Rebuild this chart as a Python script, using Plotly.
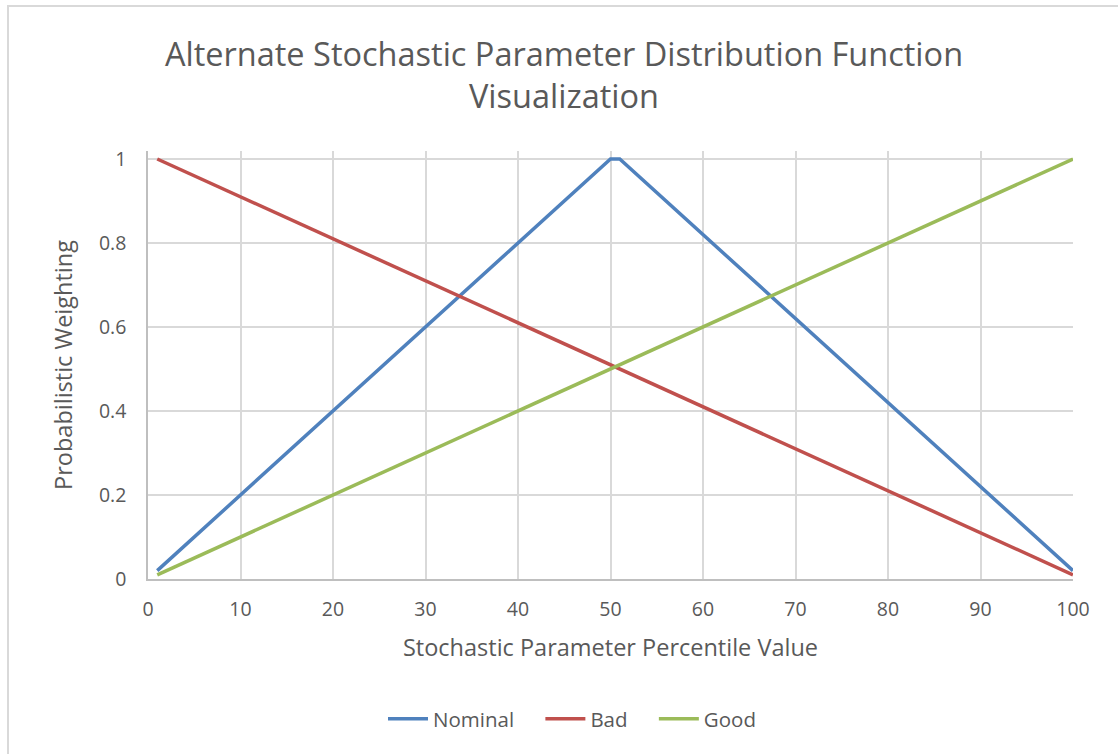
import plotly.graph_objects as go

# Data (key points of each piecewise-linear series)
nominal_x = [1, 50, 51, 100]
nominal_y = [0.02, 1.0, 1.0, 0.02]
bad_x = [1, 100]
bad_y = [1.0, 0.01]
good_x = [1, 100]
good_y = [0.01, 1.0]

x_ticks = [0, 10, 20, 30, 40, 50, 60, 70, 80, 90, 100]
y_ticks = [0, 0.2, 0.4, 0.6, 0.8, 1]
y_tick_text = ["0", "0.2", "0.4", "0.6", "0.8", "1"]

FONT = "Open Sans"
TXT = "#595959"
NB = "\u00a0"

fig = go.Figure()
fig.add_trace(go.Scatter(x=nominal_x, y=nominal_y, mode="lines", name="Nominal" + NB * 4,
                         line=dict(color="#4F81BD", width=3.5)))
fig.add_trace(go.Scatter(x=bad_x, y=bad_y, mode="lines", name="Bad" + NB * 4,
                         line=dict(color="#C0504D", width=3.5)))
fig.add_trace(go.Scatter(x=good_x, y=good_y, mode="lines", name="Good",
                         line=dict(color="#9BBB59", width=3.5)))

fig.update_layout(
    width=1118, height=754,
    margin=dict(l=148, r=45, t=151, b=175),
    paper_bgcolor="white", plot_bgcolor="white",
    font=dict(family=FONT, color=TXT),
    title=dict(text="Alternate Stochastic Parameter Distribution Function<br>Visualization",
               x=564/1118, xanchor="center", xref="container",
               y=1 - 66/754, yanchor="middle", yref="container",
               font=dict(family=FONT, size=32.5, color=TXT)),
    legend=dict(orientation="h", x=572/1118, xanchor="center", xref="container",
                y=1 - 719/754, yanchor="middle", yref="container",
                font=dict(family=FONT, size=20.5, color=TXT),
                itemwidth=40),
    showlegend=True,
)
fig.update_xaxes(range=[0, 100], tickvals=x_ticks, ticktext=[str(v) for v in x_ticks],
                 showgrid=True, gridcolor="#D9D9D9", gridwidth=1.5,
                 showline=True, linecolor="#BFBFBF", linewidth=1.5,
                 zeroline=False, ticks="", ticklabelstandoff=12,
                 tickfont=dict(family=FONT, size=19.5, color=TXT),
                 title=dict(text="Stochastic Parameter Percentile Value",
                            font=dict(family=FONT, size=23.5, color=TXT), standoff=18))
fig.update_yaxes(range=[0, 1.019], tickvals=y_ticks, ticktext=y_tick_text,
                 showgrid=True, gridcolor="#D9D9D9", gridwidth=1.5,
                 showline=True, linecolor="#BFBFBF", linewidth=1.5,
                 zeroline=False, ticks="", ticklabelstandoff=16,
                 tickfont=dict(family=FONT, size=19.5, color=TXT),
                 title=dict(text="Probabilistic Weighting",
                            font=dict(family=FONT, size=23.5, color=TXT), standoff=20))

# chart-area border (left and top edges visible)
fig.add_shape(type="rect", xref="paper", yref="paper",
              x0=(8 - 148) / 925, x1=1.2, y0=-0.6, y1=(579 - 6) / 428,
              line=dict(color="#D9D9D9", width=2), layer="below")

fig.write_html("out.html")
